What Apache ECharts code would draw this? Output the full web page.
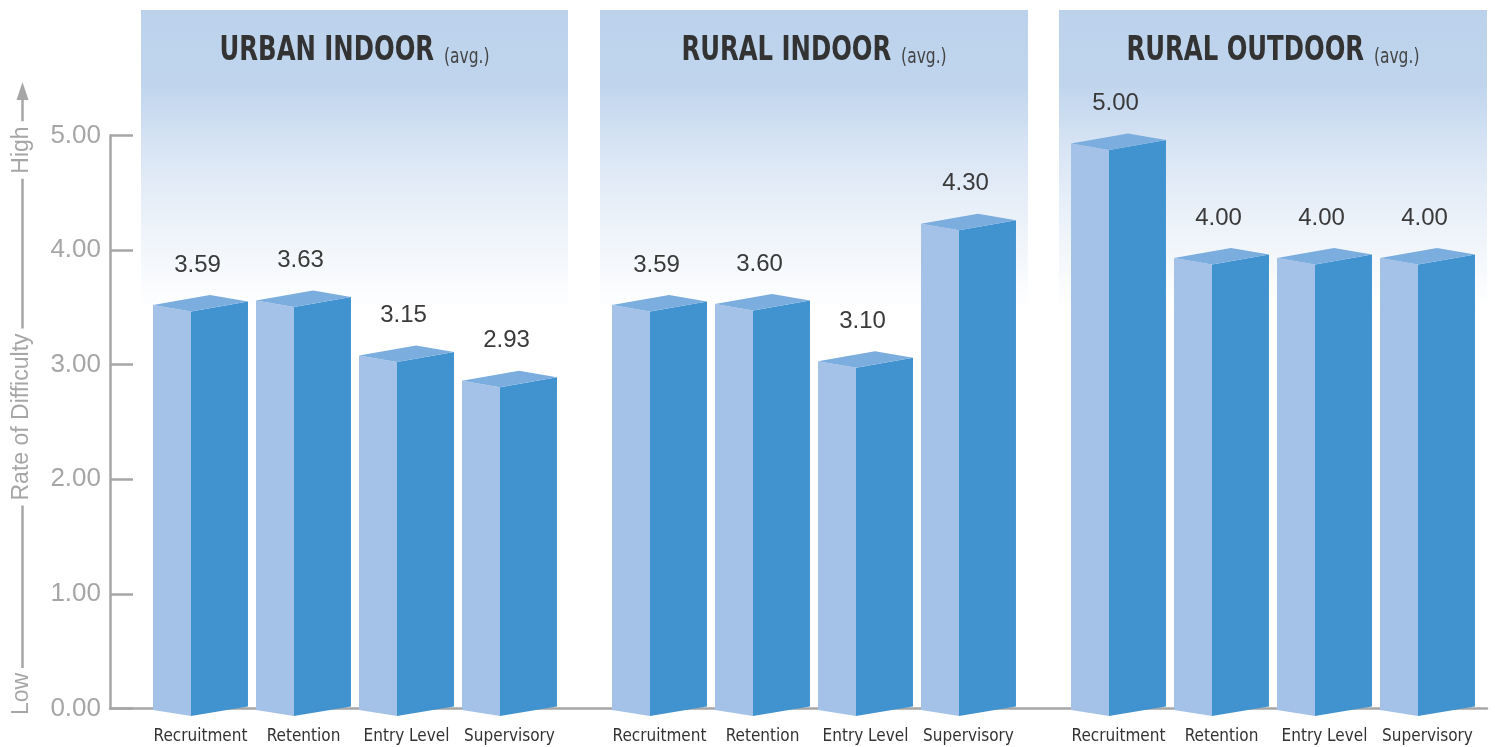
<!DOCTYPE html>
<html>
<head>
<meta charset="utf-8">
<script src="https://cdn.jsdelivr.net/npm/echarts@6/dist/echarts.min.js"></script>
<style>
html,body{margin:0;padding:0;background:#fff;}
#chart{width:1495px;height:747px;}
</style>
</head>
<body>
<div id="chart"></div>
<script>
// ---- data ----
var groupTitles = ['URBAN INDOOR', 'RURAL INDOOR', 'RURAL OUTDOOR'];
var categories = ['Recruitment', 'Retention', 'Entry Level', 'Supervisory'];
var urbanIndoor = [3.59, 3.63, 3.15, 2.93];
var ruralIndoor = [3.59, 3.60, 3.10, 4.30];
var ruralOutdoor = [5.00, 4.00, 4.00, 4.00];
var yMin = 0, yMax = 5, yInterval = 1;
var axisName = 'Rate of Difficulty';
var highLabel = 'High', lowLabel = 'Low';
var groupData = [urbanIndoor, ruralIndoor, ruralOutdoor];

// ---- style ----
var NARROW = '"Liberation Sans Narrow", "DejaVu Sans Condensed", sans-serif';
var SANS = '"Liberation Sans", Arial, sans-serif';
var GRAY = '#a6a6a6';
var TEXT = '#333333';
var TOP = 135.5, BOTTOM = 38.5;

var chart = echarts.init(document.getElementById('chart'), null, {renderer: 'canvas'});

var gridBoxes = [
  {left: 149, right: 1495 - 561},
  {left: 608, right: 1495 - 1020},
  {left: 1067, right: 1495 - 1479}
];
var panels = [
  {x: 141, w: 427},
  {x: 600, w: 428},
  {x: 1059, w: 428}
];

var grids = [], xAxes = [], yAxes = [], series = [];
// axis grid (index 0)
grids.push({left: 110, right: 8, top: TOP, bottom: BOTTOM, containLabel: false});
xAxes.push({gridIndex: 0, type: 'value', min: 0, max: 1, axisLine: {show: true, onZero: false, lineStyle: {color: GRAY, width: 2.5}},
  axisTick: {show: false}, axisLabel: {show: false}, splitLine: {show: false}});
yAxes.push({gridIndex: 0, type: 'value', min: yMin, max: yMax, interval: yInterval,
  axisLine: {show: true, lineStyle: {color: GRAY, width: 2.5}},
  axisTick: {show: true, inside: true, length: 23, lineStyle: {color: GRAY, width: 2.5}},
  axisLabel: {show: true, margin: 9, fontSize: 26, color: GRAY, fontFamily: SANS,
    formatter: function (v) { return v.toFixed(2); }},
  splitLine: {show: false}});

function renderBox(params, api) {
  var idx = api.value(0), v = api.value(1);
  var top = api.coord([idx, v]);
  var base = api.coord([idx, 0]);
  var cw = api.size([1, 0])[0];
  var W = cw * 0.922;
  var c = top[0];
  var xl = c - W / 2, xr = c + W / 2, xf = xl + W * 0.4;
  var V = top[1], B = base[1];
  var lt = [xl, V + 8], ft = [xf, V + 14.5], rt = [xr, V + 4.5], bk = [xl + (xr - xf), V - 2];
  var lb = [xl, B + 1.5], fb = [xf, B + 7.5], rb = [xr, B - 2];
  return {
    type: 'group',
    children: [
      {type: 'polygon', shape: {points: [lt, ft, fb, lb]}, style: {fill: '#a4c2e7'}},
      {type: 'polygon', shape: {points: [ft, rt, rb, fb]}, style: {fill: '#4193d0'}},
      {type: 'polygon', shape: {points: [lt, ft, rt, bk]}, style: {fill: '#7badde'}},
      {type: 'text', style: {text: v.toFixed(2), x: c - 3, y: V - 32, align: 'center', verticalAlign: 'middle',
        fontSize: 24, fontFamily: SANS, fill: '#3a3a3a'}}
    ]
  };
}

for (var g = 0; g < 3; g++) {
  var gi = g + 1;
  grids.push({left: gridBoxes[g].left, right: gridBoxes[g].right, top: TOP, bottom: BOTTOM});
  xAxes.push({gridIndex: gi, type: 'category', data: categories,
    axisLine: {show: false}, axisTick: {show: false},
    axisLabel: {show: true, margin: 20, fontSize: 17, color: TEXT, fontFamily: NARROW, interval: 0}});
  yAxes.push({gridIndex: gi, type: 'value', min: yMin, max: yMax, interval: yInterval, show: false});
  var d = groupData[g].map(function (val, i) { return [i, val]; });
  series.push({type: 'custom', xAxisIndex: gi, yAxisIndex: gi, data: d, renderItem: renderBox,
    encode: {x: 0, y: 1}, clip: false, z: 3});
}

var graphics = [];
panels.forEach(function (p, i) {
  graphics.push({type: 'rect', z: -10, shape: {x: p.x, y: 10, width: p.w, height: 300},
    style: {fill: new echarts.graphic.LinearGradient(0, 0, 0, 1, [
      {offset: 0, color: '#bcd2ec'},
      {offset: 0.25, color: '#c0d5ed'},
      {offset: 0.5, color: '#dce7f5'},
      {offset: 0.75, color: '#eff4fa'},
      {offset: 1, color: '#ffffff'}
    ])}});
  graphics.push({type: 'text', z: 5, x: p.x + p.w / 2, y: 50, scaleX: 0.82,
    style: {text: '{b|' + groupTitles[i] + '}{s|(avg.)}', align: 'center', verticalAlign: 'middle',
      rich: {
        b: {fontSize: 33, fontWeight: 'bold', fontFamily: NARROW, fill: TEXT, color: TEXT, verticalAlign: 'bottom', lineHeight: 36},
        s: {fontSize: 21, fontFamily: NARROW, fill: '#444', color: '#444', verticalAlign: 'bottom', lineHeight: 32, padding: [0, 0, 0, 12]}
      }}});
});
// axis title decoration
graphics.push({type: 'line', z: 1, shape: {x1: 22.5, y1: 95, x2: 22.5, y2: 670}, style: {stroke: GRAY, lineWidth: 2.5}});
graphics.push({type: 'polygon', z: 1, shape: {points: [[22.5, 82], [16.5, 100], [28.5, 100]]}, style: {fill: GRAY}});
[[highLabel, 150], [axisName, 417], [lowLabel, 694]].forEach(function (t) {
  graphics.push({type: 'text', z: 2, x: 22, y: t[1], rotation: Math.PI / 2,
    style: {text: t[0], align: 'center', verticalAlign: 'middle', fontSize: 23, fontFamily: SANS, fill: GRAY,
      backgroundColor: '#ffffff', padding: [0, 5, 0, 5]}});
});

chart.setOption({
  backgroundColor: '#ffffff',
  animation: false,
  grid: grids,
  xAxis: xAxes,
  yAxis: yAxes,
  series: series,
  graphic: {elements: graphics}
});
</script>
</body>
</html>
